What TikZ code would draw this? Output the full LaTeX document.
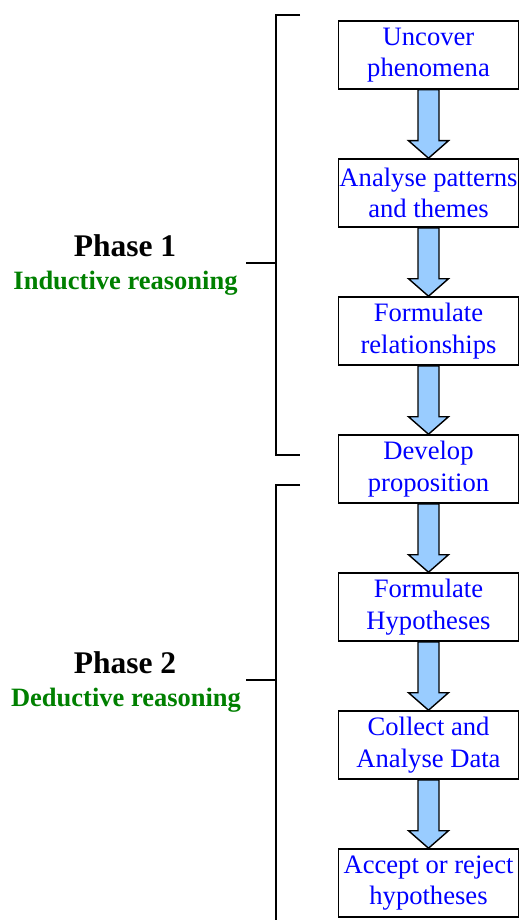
\documentclass[tikz,border=0pt]{standalone}
\usepackage{fontspec}
\setmainfont{Liberation Serif}
\usetikzlibrary{calc}
\definecolor{stepblue}{RGB}{0,0,255}
\definecolor{phasegreen}{RGB}{0,128,0}
\definecolor{arrowfill}{RGB}{153,204,255}
\tikzset{
  stepbox/.style={draw=black, line width=1.6pt, fill=white, rectangle,
    minimum width=180pt, minimum height=68pt, inner sep=0pt, align=center,
    text=stepblue, font=\fontsize{26.6}{31.5}\selectfont},
  flowarrow/.style={draw=black, line width=1.4pt, fill=arrowfill, line join=miter},
  bracket/.style={draw=black, line width=1.6pt},
  phasetitle/.style={font=\fontsize{31.5}{36}\selectfont\bfseries, text=black, inner sep=0pt},
  phasesub/.style={font=\fontsize{26.5}{30}\selectfont\bfseries, text=phasegreen, inner sep=0pt},
}
% block arrow from the bottom of one step to the top of the next
\newcommand\flowlink[2]{%
  \draw[flowarrow]
    ($(#1.south)+(-10.5,0)$) -- ($(#1.south)+(10.5,0)$) --
    ($(#2.north)+(10.5,-17.5)$) -- ($(#2.north)+(20,-17.5)$) --
    (#2.north) --
    ($(#2.north)+(-20,-17.5)$) -- ($(#2.north)+(-10.5,-17.5)$) -- cycle;}
\begin{document}
\begin{tikzpicture}[x=1pt,y=-1pt]
  \useasboundingbox (0,0) rectangle (520,920);
  \fill[white] (0,0) rectangle (520,920);

  % steps
  \node[stepbox] (s1) at (428.5,55)  {Uncover\\phenomena};
  \node[stepbox] (s2) at (428.5,193) {Analyse patterns\\and themes};
  \node[stepbox] (s3) at (428.5,331) {Formulate\\relationships};
  \node[stepbox] (s4) at (428.5,469) {Develop\\proposition};
  \node[stepbox] (s5) at (428.5,607) {Formulate\\Hypotheses};
  \node[stepbox] (s6) at (428.5,745) {Collect and\\Analyse Data};
  \node[stepbox] (s7) at (428.5,883) {Accept or reject\\hypotheses};

  \flowlink{s1}{s2}
  \flowlink{s2}{s3}
  \flowlink{s3}{s4}
  \flowlink{s4}{s5}
  \flowlink{s5}{s6}
  \flowlink{s6}{s7}

  % phase brackets
  \coordinate (b1top) at (300,15);
  \coordinate (b1bot) at (300,455);
  \coordinate (b1mid) at (246,263);
  \draw[bracket] (b1top) -- (276,15) -- (276,455) -- (b1bot);
  \draw[bracket] (276,263) -- (b1mid);

  \coordinate (b2top) at (300,485);
  \coordinate (b2bot) at (276,925);
  \coordinate (b2mid) at (246,680);
  \draw[bracket] (b2top) -- (276,485) -- (b2bot);
  \draw[bracket] (276,680) -- (b2mid);

  % phase labels
  \node[phasetitle, anchor=base] (p1) at (125,256) {Phase 1};
  \node[phasesub, anchor=base] (p1s) at (125.5,289) {Inductive reasoning};
  \node[phasetitle, anchor=base] (p2) at (125,673) {Phase 2};
  \node[phasesub, anchor=base] (p2s) at (126,706) {Deductive reasoning};
\end{tikzpicture}
\end{document}
